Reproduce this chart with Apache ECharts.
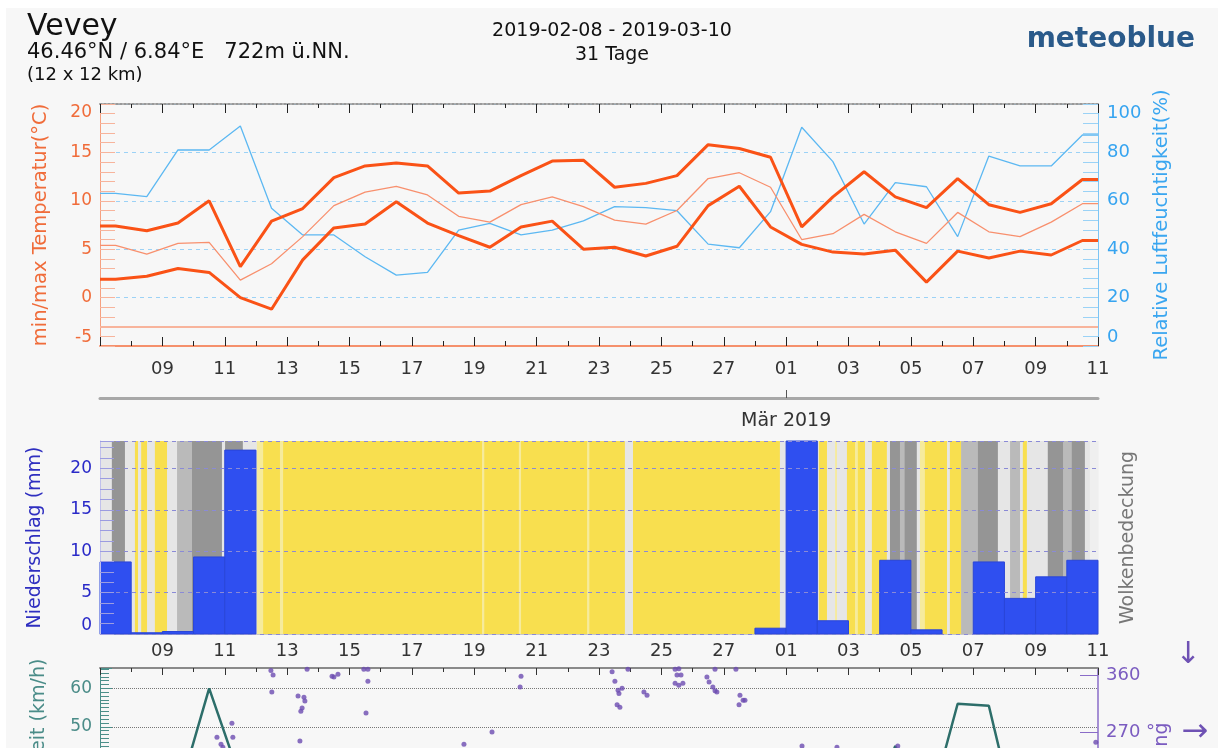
<!DOCTYPE html>
<html>
<head>
<meta charset="utf-8">
<title>Vevey - meteoblue</title>
<script src="https://cdn.jsdelivr.net/npm/echarts@6/dist/echarts.min.js"></script>
<style>
  html, body { margin: 0; padding: 0; background: #fff; }
  #chart { width: 1218px; height: 748px; }
</style>
</head>
<body>
<div id="chart"></div>
<script>
// x axis runs over days, index 0 = 07 Feb ... 32 = 11 Mar
var dayLabels = ['07','08','09','10','11','12','13','14','15','16','17','18','19','20','21',
                 '22','23','24','25','26','27','28','01','02','03','04','05','06','07','08',
                 '09','10','11'];
var monthDay = 22;
var monthLabel = 'Mär 2019';

// daily values (one per day, drawn at noon)
var tempMax  = [7.4, 6.9, 7.7, 10.0, 3.2, 7.9, 9.2, 12.4, 13.6, 13.9, 13.6, 10.8, 11.0, 12.6, 14.1, 14.2,
                11.4, 11.8, 12.6, 15.8, 15.4, 14.5, 7.3, 10.4, 13.0, 10.4, 9.3, 12.3, 9.6, 8.8, 9.7, 12.2];
var tempMean = [5.4, 4.5, 5.6, 5.7, 1.8, 3.5, 6.3, 9.5, 10.9, 11.5, 10.6, 8.4, 7.8, 9.6, 10.4, 9.4,
                8.0, 7.6, 9.0, 12.3, 12.9, 11.4, 6.0, 6.6, 8.6, 6.8, 5.6, 8.8, 6.8, 6.3, 7.8, 9.7];
var tempMin  = [1.9, 2.2, 3.0, 2.6, 0.0, -1.2, 3.9, 7.2, 7.6, 9.9, 7.7, 6.4, 5.2, 7.3, 7.9, 5.0,
                5.2, 4.3, 5.3, 9.5, 11.5, 7.3, 5.5, 4.7, 4.5, 4.9, 1.6, 4.8, 4.1, 4.8, 4.4, 5.9];
var humidity = [63.1, 61.7, 81.0, 81.0, 90.9, 56.9, 45.9, 45.9, 36.9, 29.3, 30.4, 47.9, 50.7, 45.9, 47.9, 51.7,
                57.6, 57.2, 55.9, 42.1, 40.6, 55.5, 90.4, 76.2, 50.4, 67.5, 65.8, 45.2, 78.5, 74.4, 74.4, 87.2];
var frostLine = -3;

var precip = [8.7, 0.15, 0.3, 9.3, 22.2, 0, 0, 0, 0, 0, 0, 0, 0, 0, 0, 0,
              0, 0, 0, 0, 0, 0.7, 24.0, 1.6, 0, 8.9, 0.5, 0, 8.7, 4.3, 6.9, 8.9];
var precipMax = 23.3;

// cloud cover runs: edges in days, level 0 clear ... 3 overcast, 4 thin haze, 5 faint
var cloudEdges = [0, 0.38, 0.80, 1.12, 1.22, 1.32, 1.51, 1.76, 2.15, 2.47, 2.95, 3.91, 4.01, 4.58, 5.03, 5.23,
                  5.77, 5.87, 12.25, 12.32, 13.43, 13.50, 15.62, 15.69, 16.83, 17.09, 21.80, 23.05, 23.31,
                  23.57, 23.63, 23.95, 24.21, 24.30, 24.53, 24.75, 25.23, 25.33, 25.65, 25.80, 26.19, 26.29,
                  26.45, 27.16, 27.25, 27.61, 28.15, 28.79, 29.18, 29.50, 29.59, 29.72, 30.39, 30.88, 31.16,
                  31.58, 31.74, 32];
var cloudLevel = [1,3,1,0,1,0,1,0,1,2, 3,1,3,1,4,0,4,0,4,0, 4,0,4,0,1,0,1,0,1,4,
                  1,0,4,0,1,0,1,3,2,3, 1,4,0,1,0,2,3,1,2,1, 0,1,3,2,3,1,5];
var cloudColors = ['#f8df4f', '#e6e6e6', '#bababa', '#959595', '#f6eb9c', '#efefef'];

var windSpeed = [20, 25, 32, 60, 36.5, 20, 15, 12, 10, 12, 14, 10, 12, 15, 10, 12,
                 14, 10, 12, 15, 12, 18, 30, 28, 25, 45, 26, 56, 55.5, 21.5, 25, 28];
var windDirDay = [3.75, 3.88, 3.94, 4.23, 4.26, 5.48, 5.55, 5.51, 6.35, 6.54, 6.57, 6.48, 6.44, 6.41, 6.64,
                  7.44, 7.50, 7.63, 8.46, 8.59, 8.59, 8.53, 11.67, 12.57, 13.50, 13.47, 16.42, 16.51, 16.61,
                  16.64, 16.74, 16.58, 16.67, 16.93, 17.44, 17.54, 18.44, 18.56, 18.50, 18.63, 18.44, 18.56,
                  18.69, 19.46, 19.53, 19.65, 19.72, 19.78, 19.72, 20.39, 20.52, 20.62, 20.49, 20.68, 22.51,
                  23.63, 25.58, 31.93];
var windDirDeg = [263, 252, 247, 285, 263, 368, 361, 334, 328, 326, 320, 309, 304, 257, 370,
                  359, 358, 362, 370, 370, 351, 301, 252, 271, 359, 342, 366, 351, 337,
                  332, 340, 314, 310, 370, 334, 329, 370, 371, 361, 361, 348, 345,
                  348, 358, 350, 342, 336, 334, 370, 370, 329, 321, 314, 321, 249,
                  247, 249, 255];

function dailyLine(vals) {
    var d = [[0, vals[0]]];
    vals.forEach(function (v, i) { d.push([i + 0.5, v]); });
    d.push([vals.length, vals[vals.length - 1]]);
    return d;
}

var font = 'DejaVu Sans';
var myChart = echarts.init(document.getElementById('chart'));

function merge(a, extra) {
    for (var k in extra) a[k] = extra[k];
    return a;
}

function dayAxis(grid, pos, extra) {
    return merge({
        type: 'value', gridIndex: grid, position: pos, min: 0, max: 32, interval: 2,
        splitLine: {show: false},
        axisLabel: {show: false},
        axisTick: {show: false},
        axisLine: {show: false, onZero: false}
    }, extra);
}

function line(color, width, extra) {
    return merge({show: true, onZero: false, lineStyle: {color: color, width: width || 1}}, extra || {});
}

option = {
    animation: false,
    backgroundColor: '#f7f7f7',
    textStyle: {fontFamily: font},
    grid: [
        {left: 100, top: 104, width: 998, height: 242, containLabel: false, outerBoundsMode: 'none'},
        {left: 100, top: 441, width: 998, height: 193, containLabel: false, outerBoundsMode: 'none'},
        {left: 100, top: 668, width: 998, height: 251, containLabel: false, outerBoundsMode: 'none'},
        {left: 100, top: 668, width: 998, height: 236, containLabel: false, outerBoundsMode: 'none'}
    ],
    graphic: [
        {type: 'rect', shape: {x: 0, y: 0, width: 1218, height: 8}, style: {fill: '#fff'}, silent: true},
        {type: 'rect', shape: {x: 0, y: 0, width: 6, height: 748}, style: {fill: '#fff'}, silent: true},
        {type: 'text', x: 27, y: 27, style: {text: 'Vevey', font: '30px ' + font, fill: '#111', verticalAlign: 'middle'}},
        {type: 'text', x: 27, y: 53, style: {text: '46.46°N / 6.84°E   722m ü.NN.', font: '21px ' + font, fill: '#111', verticalAlign: 'middle'}},
        {type: 'text', x: 27, y: 75, style: {text: '(12 x 12 km)', font: '18px ' + font, fill: '#111', verticalAlign: 'middle'}},
        {type: 'text', x: 612, y: 31, style: {text: '2019-02-08 - 2019-03-10', font: '19px ' + font, fill: '#111', align: 'center', verticalAlign: 'middle'}},
        {type: 'text', x: 612, y: 55, style: {text: '31 Tage', font: '19px ' + font, fill: '#111', align: 'center', verticalAlign: 'middle'}},
        {type: 'text', x: 1195, y: 40, style: {text: 'meteoblue', font: 'bold 28px ' + font, fill: '#2a5a8a', align: 'right', verticalAlign: 'middle'}},
        {type: 'text', x: 1188, y: 655, style: {text: '↓', font: '30px ' + font, fill: '#6f52b4', align: 'center', verticalAlign: 'middle'}},
        {type: 'text', x: 1195, y: 733, style: {text: '→', font: '32px ' + font, fill: '#6f52b4', align: 'center', verticalAlign: 'middle'}}
    ],
    xAxis: [
        // 0: temperature panel bottom
        dayAxis(0, 'bottom', {
            axisLine: line('#f5906c', 2),
            axisTick: {show: true, inside: true, length: 9, lineStyle: {color: '#222'}},
            minorTick: {show: true, splitNumber: 2, length: 5, lineStyle: {color: '#222'}},
            axisLabel: {show: true, margin: 14, color: '#333', fontSize: 18,
                formatter: function (v) { return v > 0 ? dayLabels[v] : ''; }}
        }),
        // 1: temperature panel top
        dayAxis(0, 'top', {
            axisLine: line('#999', 2, {lineStyle: {color: '#999', width: 2, type: 'dotted'}}),
            axisTick: {show: true, inside: true, length: 9, lineStyle: {color: '#222'}},
            minorTick: {show: true, splitNumber: 2, length: 4, lineStyle: {color: '#222'}}
        }),
        // 2: month bar
        dayAxis(0, 'bottom', {
            offset: 52,
            axisLine: line('#a8a8a8', 3),
            axisTick: {show: true, inside: true, length: 8, customValues: [monthDay], lineStyle: {color: '#555'}},
            axisLabel: {show: true, margin: 14, color: '#333', fontSize: 19, customValues: [monthDay],
                formatter: function () { return monthLabel; }}
        }),
        // 3: precipitation panel
        dayAxis(1, 'bottom', {
            axisLine: line('#c8c8c8', 1),
            axisLabel: {show: true, margin: 8, color: '#333', fontSize: 18,
                formatter: function (v) { return v > 0 ? dayLabels[v] : ''; }}
        }),
        // 4: wind panel top
        dayAxis(2, 'top', {
            axisLine: line('#8a8a8a', 2),
            axisTick: {show: true, inside: true, length: 7, lineStyle: {color: '#333'}},
            minorTick: {show: true, splitNumber: 2, length: 4, lineStyle: {color: '#333'}}
        }),
        // 5: wind direction
        dayAxis(3, 'bottom', {show: false})
    ],
    yAxis: [
        {
            type: 'value', gridIndex: 0, position: 'left', min: -5, max: 20, interval: 5,
            name: 'min/max Temperatur(°C)', nameLocation: 'middle', nameRotate: 90, nameGap: 49,
            nameTextStyle: {color: '#f06c3a', fontSize: 19.5},
            axisLine: line('#f5a080', 1),
            axisTick: {show: true, inside: true, length: 15, lineStyle: {color: '#f7b49c'}},
            minorTick: {show: true, splitNumber: 5, length: 15, lineStyle: {color: '#f7b49c'}},
            axisLabel: {color: '#f06c3a', fontSize: 17, margin: 8,
                verticalAlignMinLabel: 'bottom', verticalAlignMaxLabel: 'top'},
            splitLine: {show: false}
        },
        {
            type: 'value', gridIndex: 0, position: 'right', min: 0, max: 100, interval: 20,
            name: 'Relative Luftfeuchtigkeit(%)', nameLocation: 'middle', nameRotate: 90, nameGap: 54,
            nameTextStyle: {color: '#3aa6f0', fontSize: 19.5},
            axisLine: line('#7cc4f4', 1),
            axisTick: {show: true, inside: true, length: 15, lineStyle: {color: '#9ad2f6'}},
            minorTick: {show: true, splitNumber: 5, length: 15, lineStyle: {color: '#9ad2f6'}},
            axisLabel: {color: '#36a4f0', fontSize: 18, margin: 9,
                verticalAlignMinLabel: 'bottom', verticalAlignMaxLabel: 'top'},
            splitLine: {show: true, lineStyle: {color: '#9cd2f6', type: [4, 4]}}
        },
        {
            type: 'value', gridIndex: 1, position: 'left', min: 0, max: precipMax, interval: 5, z: 10,
            name: 'Niederschlag (mm)', nameLocation: 'middle', nameRotate: 90, nameGap: 55,
            nameTextStyle: {color: '#2f2fc0', fontSize: 19},
            axisLine: line('#c0c0ec', 1),
            axisTick: {show: true, inside: true, length: 14, lineStyle: {color: '#9c9ce0'}},
            minorTick: {show: true, splitNumber: 4, length: 14, lineStyle: {color: '#9c9ce0'}},
            axisLabel: {color: '#2a2ac8', fontSize: 17, margin: 8, showMaxLabel: false,
                verticalAlignMinLabel: 'bottom'},
            splitLine: {show: true, lineStyle: {color: '#8a8ad6', type: [4, 4]}}
        },
        {
            type: 'value', gridIndex: 1, position: 'right', min: 0, max: 1,
            name: 'Wolkenbedeckung', nameLocation: 'middle', nameRotate: 90, nameGap: 21,
            nameTextStyle: {color: '#777', fontSize: 19},
            axisLine: {show: false, onZero: false}, axisTick: {show: false}, axisLabel: {show: false}, splitLine: {show: false}
        },
        {
            type: 'value', gridIndex: 2, position: 'left', min: 0, max: 65.3, interval: 10,
            name: 'Windgeschwindigkeit (km/h)', nameLocation: 'middle', nameRotate: 90, nameGap: 51,
            nameTextStyle: {color: '#4a8c88', fontSize: 19},
            axisLine: line('#4c8f8a', 1),
            axisTick: {show: true, inside: true, length: 12, lineStyle: {color: '#4c8f8a'}},
            minorTick: {show: true, splitNumber: 10, length: 9, lineStyle: {color: '#4c8f8a'}},
            axisLabel: {color: '#4a8c88', fontSize: 17, margin: 8, showMaxLabel: false},
            splitLine: {show: true, lineStyle: {color: '#777', type: 'dotted'}}
        },
        {
            type: 'value', gridIndex: 3, position: 'right', min: 0, max: 372, interval: 90,
            name: 'Windrichtung', nameLocation: 'middle', nameRotate: 90, nameGap: 55, nameMoveOverlap: false,
            nameTextStyle: {color: '#7b5cc0', fontSize: 19},
            axisLine: line('#8a6cc8', 1.5),
            axisTick: {show: true, inside: true, length: 18, lineStyle: {color: '#8a6cc8'}},
            axisLabel: {color: '#7b5cc0', fontSize: 18, margin: 8, showMaxLabel: false,
                formatter: function (v) { return v === 270 ? '270 °' : String(v); }},
            splitLine: {show: false}
        }
    ],
    series: [
        {
            name: 'Wolkenbedeckung', type: 'custom', xAxisIndex: 3, yAxisIndex: 2, z: 1, silent: true,
            encode: {x: [0, 1], y: 2},
            data: cloudLevel.map(function (lv, i) { return [cloudEdges[i], cloudEdges[i + 1], lv]; }),
            renderItem: function (params, api) {
                var x0 = api.coord([api.value(0), 0])[0];
                var x1 = api.coord([api.value(1), 0])[0];
                var cs = params.coordSys;
                return {type: 'rect', shape: {x: x0, y: cs.y, width: x1 - x0 + 0.6, height: cs.height},
                        style: {fill: cloudColors[api.value(2)]}};
            }
        },
        {
            name: 'Niederschlag', type: 'custom', xAxisIndex: 3, yAxisIndex: 2, z: 2, silent: true,
            encode: {x: 0, y: 1},
            data: precip.map(function (v, i) { return [i, v]; }),
            renderItem: function (params, api) {
                var v = api.value(1);
                if (!v) return null;
                var top = api.coord([api.value(0), Math.min(v, precipMax)]);
                var bot = api.coord([api.value(0) + 1, 0]);
                return {type: 'rect', shape: {x: top[0], y: top[1], width: bot[0] - top[0], height: bot[1] - top[1]},
                        style: {fill: '#2f4ff0', stroke: '#2a46d8', lineWidth: 1}};
            }
        },
        {
            name: 'Luftfeuchtigkeit', type: 'line', xAxisIndex: 0, yAxisIndex: 1, z: 3,
            showSymbol: false, data: dailyLine(humidity),
            lineStyle: {color: '#5cb8f2', width: 1.3}
        },
        {
            name: 'Mittel', type: 'line', xAxisIndex: 0, yAxisIndex: 0, z: 4,
            showSymbol: false, data: dailyLine(tempMean),
            lineStyle: {color: '#f8906e', width: 1.3}
        },
        {
            name: 'Max', type: 'line', xAxisIndex: 0, yAxisIndex: 0, z: 5,
            showSymbol: false, data: dailyLine(tempMax),
            lineStyle: {color: '#fa5216', width: 3}
        },
        {
            name: 'Min', type: 'line', xAxisIndex: 0, yAxisIndex: 0, z: 5,
            showSymbol: false, data: dailyLine(tempMin),
            lineStyle: {color: '#fa5216', width: 3},
            markLine: {silent: true, symbol: 'none', label: {show: false},
                lineStyle: {color: '#f8b49c', width: 2, type: 'solid'},
                data: [{yAxis: frostLine}]}
        },
        {
            name: 'Windgeschwindigkeit', type: 'line', xAxisIndex: 4, yAxisIndex: 4, z: 3,
            showSymbol: false, data: dailyLine(windSpeed),
            lineStyle: {color: '#2d6e6a', width: 2.5}
        },
        {
            name: 'Windrichtung', type: 'scatter', xAxisIndex: 5, yAxisIndex: 5, z: 4,
            symbolSize: 5, itemStyle: {color: '#6b4bb0'},
            data: windDirDay.map(function (d, i) { return [d, windDirDeg[i]]; })
        }
    ]
};

myChart.setOption(option);
</script>
</body>
</html>
